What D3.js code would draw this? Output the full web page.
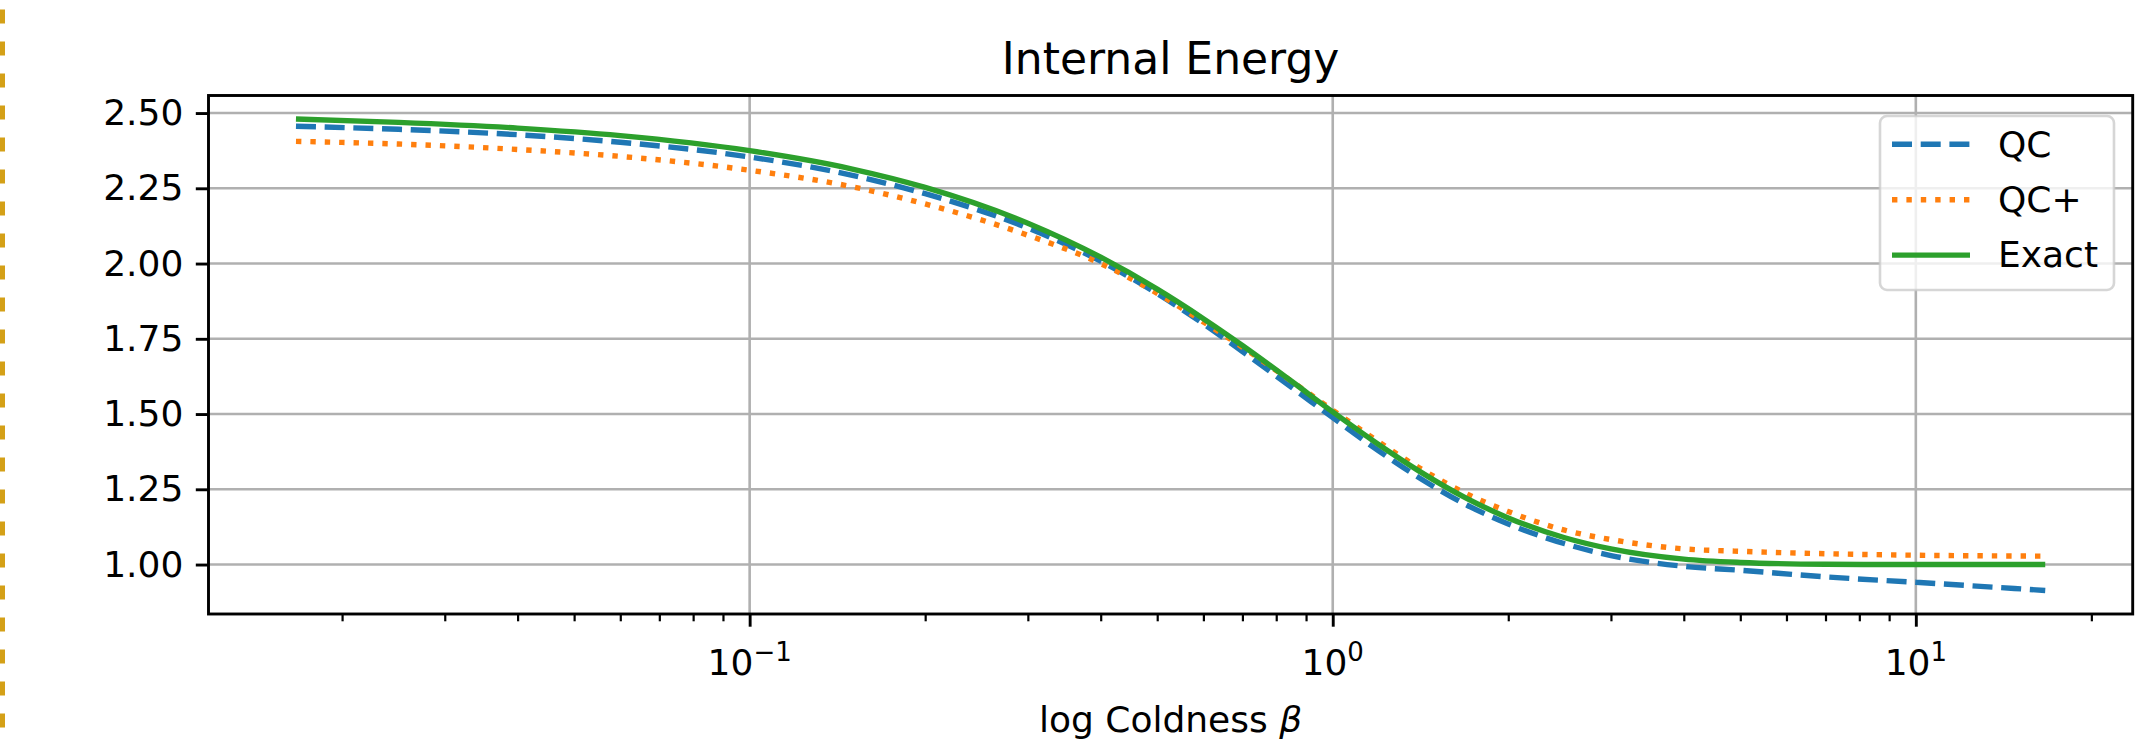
<!DOCTYPE html>
<html>
<head>
<meta charset="utf-8">
<script src="https://cdn.jsdelivr.net/npm/d3@7"></script>
<style>
  body { margin: 0; background: #fff; }
  svg { display: block; font-family: "DejaVu Sans", sans-serif; }
</style>
</head>
<body>
<div id="chart"></div>
<script>
/*
 * Internal Energy vs coldness (log x axis)
 */

// Data
var betas      = [0.01667, 0.025, 0.04, 0.06, 0.1, 0.15, 0.2, 0.3, 0.4, 0.5, 0.6, 0.7, 0.85, 1.0, 1.2, 1.4, 1.7, 2.0, 2.5, 3.0, 4.0, 5.0, 7.0, 10.0, 16.67];
var qcVals     = [2.456, 2.446, 2.428, 2.403, 2.354, 2.293, 2.232, 2.118, 2.008, 1.900, 1.800, 1.708, 1.589, 1.488, 1.377, 1.291, 1.197, 1.135, 1.069, 1.030, 0.994, 0.981, 0.959, 0.941, 0.914];
var qcPlusVals = [2.406, 2.397, 2.379, 2.356, 2.310, 2.255, 2.198, 2.094, 2.000, 1.901, 1.806, 1.722, 1.609, 1.513, 1.407, 1.324, 1.234, 1.176, 1.114, 1.083, 1.052, 1.044, 1.036, 1.031, 1.028];
var exactVals  = [2.480, 2.469, 2.450, 2.425, 2.375, 2.314, 2.253, 2.134, 2.021, 1.915, 1.817, 1.728, 1.609, 1.507, 1.398, 1.313, 1.219, 1.155, 1.089, 1.052, 1.018, 1.007, 1.001, 1.000, 1.000];

var seriesNames  = ["QC", "QC+", "Exact"];
var seriesColors = ["#1f77b4", "#ff7f0e", "#2ca02c"];
var seriesDash   = ["20,8.7", "5.4,9", null];

var yTickVals = [1.00, 1.25, 1.50, 1.75, 2.00, 2.25, 2.50];
var xTickVals = [0.1, 1, 10];
var xTickExp  = ["\u22121", "0", "1"];

var titleText  = "Internal Energy";
var xLabelText = "log Coldness ";

// Define Space
var width = 2149,
    height = 741;
var plot = {left: 208.5, right: 2132.7, top: 95.5, bottom: 614};

var svg = d3.select("#chart").append("svg")
    .attr("width", width)
    .attr("height", height);

svg.append("rect")
    .attr("width", width)
    .attr("height", height)
    .attr("fill", "#fff");

// dashed frame edge on the left of the screenshot
svg.append("line")
    .attr("x1", 2.5).attr("x2", 2.5)
    .attr("y1", 0).attr("y2", height)
    .attr("stroke", "#d4a017")
    .attr("stroke-width", 5)
    .attr("stroke-dasharray", "14,18")
    .attr("stroke-dashoffset", 22.5);

var series = [qcVals, qcPlusVals, exactVals].map(function (vals, i) {
    return {
        name: seriesNames[i],
        color: seriesColors[i],
        dash: seriesDash[i],
        values: vals.map(function (v, j) { return {b: betas[j], v: v}; })
    };
});

// matplotlib style 5% margins (log space for x)
var lx0 = Math.log10(d3.min(betas)), lx1 = Math.log10(d3.max(betas));
var padX = 0.05 * (lx1 - lx0);
var allVals = qcVals.concat(qcPlusVals, exactVals);
var y0 = d3.min(allVals), y1 = d3.max(allVals);
var padY = 0.05 * (y1 - y0);

var x = d3.scaleLog()
    .domain([Math.pow(10, lx0 - padX), Math.pow(10, lx1 + padX)])
    .range([plot.left, plot.right]);

var y = d3.scaleLinear()
    .domain([y0 - padY, y1 + padY])
    .range([plot.bottom, plot.top]);

// grid
var grid = svg.append("g").attr("stroke", "#b0b0b0").attr("stroke-width", 2.6);
grid.selectAll(".gx").data(xTickVals).enter().append("line")
    .attr("x1", function (d) { return x(d); })
    .attr("x2", function (d) { return x(d); })
    .attr("y1", plot.top).attr("y2", plot.bottom);
grid.selectAll(".gy").data(yTickVals).enter().append("line")
    .attr("x1", plot.left).attr("x2", plot.right)
    .attr("y1", function (d) { return y(d); })
    .attr("y2", function (d) { return y(d); });

// lines
var line = d3.line()
    .x(function (d) { return x(d.b); })
    .y(function (d) { return y(d.v); })
    .curve(d3.curveMonotoneX);

svg.selectAll(".series")
    .data(series)
    .enter().append("path")
    .attr("class", "series")
    .attr("d", function (d) { return line(d.values); })
    .attr("fill", "none")
    .attr("stroke", function (d) { return d.color; })
    .attr("stroke-width", 5.4)
    .attr("stroke-dasharray", function (d) { return d.dash; })
    .attr("stroke-linecap", "butt");

// y axis
var yAxis = svg.append("g")
    .attr("transform", "translate(" + plot.left + ",0)")
    .call(d3.axisLeft(y).tickValues(yTickVals).tickFormat(d3.format(".2f"))
        .tickSize(12.7).tickPadding(12.5));
yAxis.select(".domain").remove();
yAxis.selectAll(".tick line").attr("stroke", "#000").attr("stroke-width", 2.9);
yAxis.selectAll(".tick text")
    .attr("fill", "#000")
    .style("font-size", "36px")
    .style("font-family", "'DejaVu Sans', sans-serif");

// x axis: minor ticks then major ticks
var minorTicks = x.ticks().filter(function (d) {
    return Math.abs(Math.log10(d) - Math.round(Math.log10(d))) > 1e-6;
});
var xMinor = svg.append("g")
    .attr("transform", "translate(0," + plot.bottom + ")")
    .call(d3.axisBottom(x).tickValues(minorTicks).tickFormat("").tickSize(7.3));
xMinor.select(".domain").remove();
xMinor.selectAll(".tick line").attr("stroke", "#000").attr("stroke-width", 2.2);

var xMajor = svg.append("g")
    .attr("transform", "translate(0," + plot.bottom + ")")
    .call(d3.axisBottom(x).tickValues(xTickVals).tickFormat("").tickSize(12.7));
xMajor.select(".domain").remove();
xMajor.selectAll(".tick line").attr("stroke", "#000").attr("stroke-width", 2.9);

var xLabels = svg.append("g").selectAll("text")
    .data(xTickVals)
    .enter().append("text")
    .attr("x", function (d) { return x(d); })
    .attr("y", 675)
    .attr("text-anchor", "middle")
    .style("font-size", "36px");
xLabels.append("tspan").text("10");
xLabels.append("tspan")
    .attr("dy", -14)
    .style("font-size", "26px")
    .text(function (d, i) { return xTickExp[i]; });

// spines
svg.append("rect")
    .attr("x", plot.left).attr("y", plot.top)
    .attr("width", plot.right - plot.left)
    .attr("height", plot.bottom - plot.top)
    .attr("fill", "none")
    .attr("stroke", "#000")
    .attr("stroke-width", 2.9);

// title + x label
svg.append("text")
    .attr("x", (plot.left + plot.right) / 2)
    .attr("y", 74)
    .attr("text-anchor", "middle")
    .style("font-size", "44px")
    .text(titleText);

var xl = svg.append("text")
    .attr("x", (plot.left + plot.right) / 2)
    .attr("y", 732)
    .attr("text-anchor", "middle")
    .style("font-size", "36px")
    .text(xLabelText);
xl.append("tspan").style("font-style", "italic").text("\u03b2");

// legend
var legend = svg.append("g");
legend.append("rect")
    .attr("x", 1880).attr("y", 116)
    .attr("width", 234).attr("height", 174)
    .attr("rx", 7)
    .attr("fill", "#fff").attr("fill-opacity", 0.8)
    .attr("stroke", "#cccccc").attr("stroke-opacity", 0.8)
    .attr("stroke-width", 2.6);

var entry = legend.selectAll(".entry")
    .data(series)
    .enter().append("g")
    .attr("transform", function (d, i) { return "translate(0," + (144.3 + i * 55.4) + ")"; });
entry.append("line")
    .attr("x1", 1892).attr("x2", 1970)
    .attr("stroke", function (d) { return d.color; })
    .attr("stroke-width", 5.4)
    .attr("stroke-dasharray", function (d) { return d.dash; });
entry.append("text")
    .attr("x", 1998)
    .attr("y", 12.3)
    .style("font-size", "36px")
    .text(function (d) { return d.name; });
</script>
</body>
</html>
